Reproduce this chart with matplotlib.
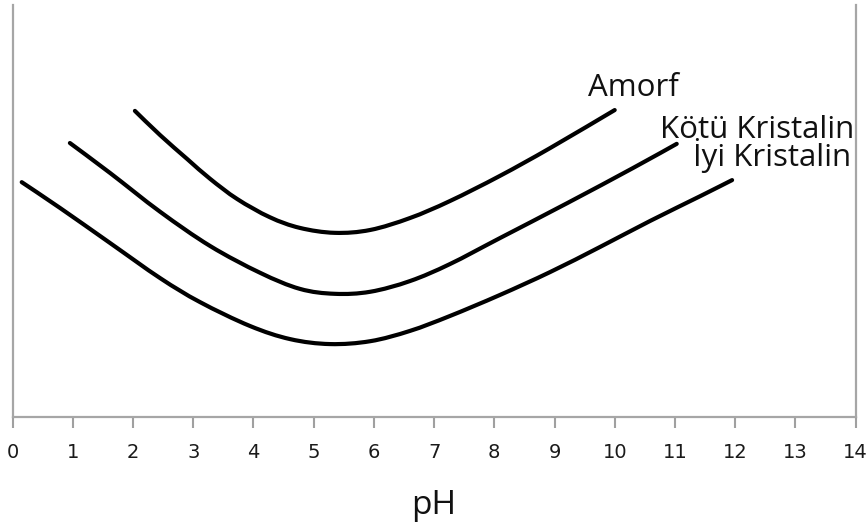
import numpy as np
import matplotlib
matplotlib.use("Agg")
import matplotlib.pyplot as plt
from matplotlib.path import Path
from matplotlib.patches import PathPatch

# Data (x = pH, y = relative solubility, arbitrary units 0-100)
amorf_ph = [2.03, 2.45, 2.90, 3.28, 3.73, 4.27, 4.77, 5.35, 5.94, 6.60, 7.26, 8.09, 8.93, 10.00]
amorf_y = [74.3, 68.4, 62.6, 57.8, 52.9, 48.5, 45.9, 44.7, 45.4, 48.3, 52.4, 58.5, 65.3, 74.5]

kotu_ph = [0.95, 1.62, 2.45, 3.28, 4.11, 4.77, 5.35, 5.94, 6.60, 7.26, 8.09, 9.21, 10.30, 11.03]
kotu_y = [66.5, 59.2, 49.8, 41.5, 35.0, 31.1, 29.9, 30.4, 33.0, 37.1, 43.4, 51.9, 60.4, 66.3]

iyi_ph = [0.15, 0.79, 1.62, 2.45, 3.11, 3.94, 4.61, 5.27, 5.94, 6.60, 7.26, 8.09, 8.93, 9.76, 10.59, 11.42, 11.95]
iyi_y = [57.0, 50.7, 42.2, 33.7, 27.9, 22.1, 18.9, 17.7, 18.4, 20.9, 24.5, 29.6, 35.2, 41.3, 47.6, 53.6, 57.5]

labels = ["Amorf", "Kötü Kristalin", "İyi Kristalin"]
label_pos = [(9.56, 77.9), (10.75, 67.7), (11.30, 60.9)]

xticks = list(range(0, 15))


def smooth_path(xs, ys):
    """Catmull-Rom through the points, drawn as cubic Bezier segments."""
    p = np.column_stack([xs, ys]).astype(float)
    n = len(p)
    verts = [p[0]]
    codes = [Path.MOVETO]
    for i in range(n - 1):
        p0 = p[i - 1] if i > 0 else p[i]
        p1 = p[i]
        p2 = p[i + 1]
        p3 = p[i + 2] if i + 2 < n else p[i + 1]
        c1 = p1 + (p2 - p0) / 6.0
        c2 = p2 - (p3 - p1) / 6.0
        verts += [c1, c2, p2]
        codes += [Path.CURVE4] * 3
    return Path(verts, codes)


fig = plt.figure(figsize=(8.66, 5.29), dpi=100)
ax = fig.add_axes([12.7 / 866, (529 - 417) / 529, (855.5 - 12.7) / 866, (417 - 5) / 529])
ax.set_xlim(0, 14)
ax.set_ylim(0, 100)

for xs, ys in [(amorf_ph, amorf_y), (kotu_ph, kotu_y), (iyi_ph, iyi_y)]:
    patch = PathPatch(smooth_path(xs, ys), facecolor="none", edgecolor="black",
                      lw=3.0, capstyle="round", joinstyle="round")
    ax.add_patch(patch)

for txt, (lx, ly) in zip(labels, label_pos):
    ax.text(lx, ly, txt, fontsize=22.5, family=["Open Sans", "DejaVu Sans"],
            color="#111111", ha="left", va="baseline", clip_on=False)

ax.set_xticks(xticks)
ax.set_xticklabels([str(t) for t in xticks])
ax.set_yticks([])
ax.tick_params(axis="x", direction="out", length=8, width=1.5, color="#a0a0a0",
               labelsize=14, labelcolor="#1a1a1a", pad=11)

for s in ["left", "bottom", "right"]:
    ax.spines[s].set_color("#a6a6a6")
    ax.spines[s].set_linewidth(1.6)
ax.spines["top"].set_visible(False)

ax.text(7, -0.235, "pH", transform=ax.get_xaxis_transform(), fontsize=24,
        family=["Open Sans", "DejaVu Sans"], color="#111111",
        ha="center", va="baseline")

fig.savefig("out.png", dpi=100)
